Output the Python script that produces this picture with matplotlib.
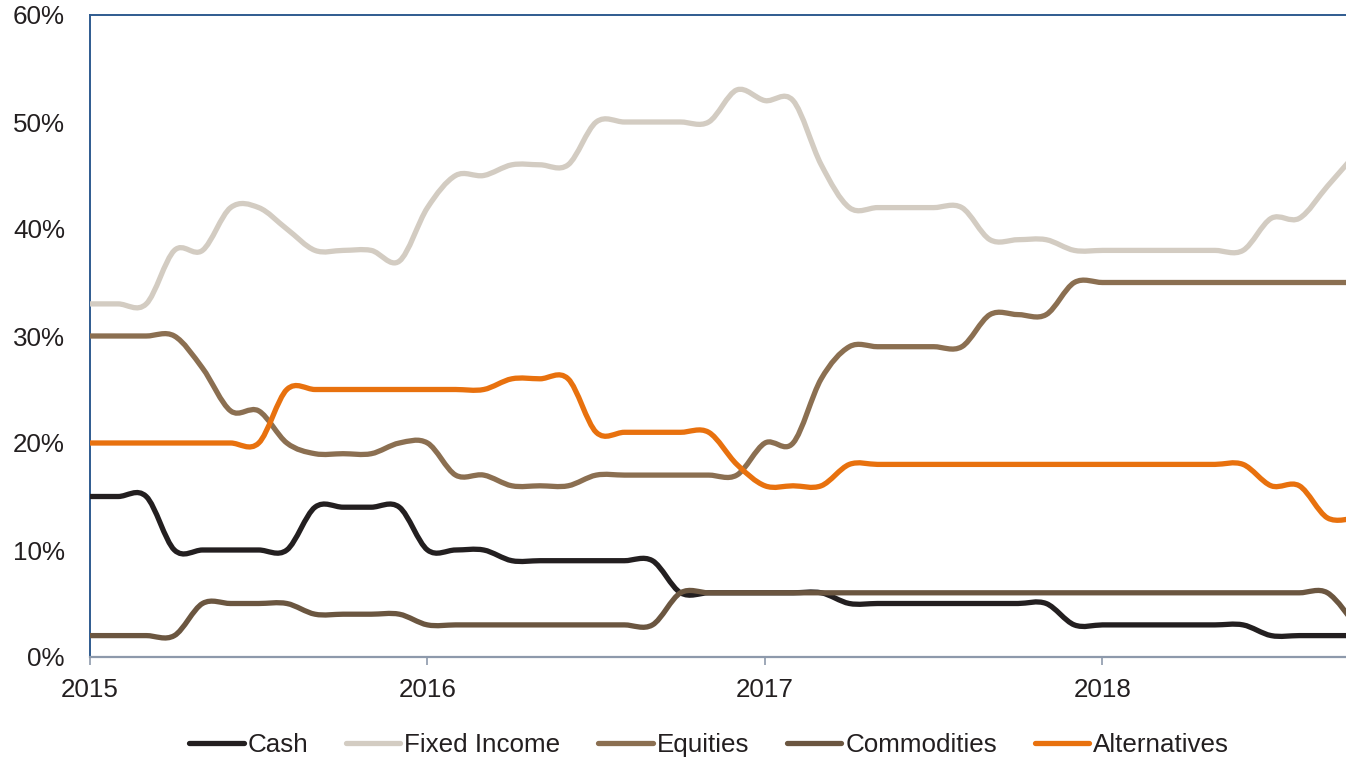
import matplotlib
matplotlib.use("Agg")
import matplotlib.pyplot as plt
from matplotlib.path import Path
from matplotlib.patches import PathPatch
from matplotlib.lines import Line2D
from matplotlib.ticker import FuncFormatter

plt.rcParams['font.family'] = ['Liberation Sans', 'DejaVu Sans']

# Monthly allocations (%), Jan 2015 .. Oct 2018
years = ["2015", "2016", "2017", "2018"]
series_names = ["Cash", "Fixed Income", "Equities", "Commodities", "Alternatives"]

cash = [15, 15, 15, 10, 10, 10, 10, 10, 14, 14, 14, 14,
        10, 10, 10, 9, 9, 9, 9, 9, 9, 6, 6, 6,
        6, 6, 6, 5, 5, 5, 5, 5, 5, 5, 5, 3,
        3, 3, 3, 3, 3, 3, 2, 2, 2, 2]
fixed_income = [33, 33, 33, 38, 38, 42, 42, 40, 38, 38, 38, 37,
                42, 45, 45, 46, 46, 46, 50, 50, 50, 50, 50, 53,
                52, 52, 46, 42, 42, 42, 42, 42, 39, 39, 39, 38,
                38, 38, 38, 38, 38, 38, 41, 41, 44, 47]
equities = [30, 30, 30, 30, 27, 23, 23, 20, 19, 19, 19, 20,
            20, 17, 17, 16, 16, 16, 17, 17, 17, 17, 17, 17,
            20, 20, 26, 29, 29, 29, 29, 29, 32, 32, 32, 35,
            35, 35, 35, 35, 35, 35, 35, 35, 35, 35]
commodities = [2, 2, 2, 2, 5, 5, 5, 5, 4, 4, 4, 4,
               3, 3, 3, 3, 3, 3, 3, 3, 3, 6, 6, 6,
               6, 6, 6, 6, 6, 6, 6, 6, 6, 6, 6, 6,
               6, 6, 6, 6, 6, 6, 6, 6, 6, 3]
alternatives = [20, 20, 20, 20, 20, 20, 20, 25, 25, 25, 25, 25,
                25, 25, 25, 26, 26, 26, 21, 21, 21, 21, 21, 18,
                16, 16, 16, 18, 18, 18, 18, 18, 18, 18, 18, 18,
                18, 18, 18, 18, 18, 18, 16, 16, 13, 13]

colors = ["#231f20", "#d3ccc2", "#8b6f51", "#6b5640", "#e8710e"]
all_series = [cash, fixed_income, equities, commodities, alternatives]


def smooth_path(xs, ys):
    """Catmull-Rom style cubic Bezier path through the points (Excel-like smoothing)."""
    n = len(xs)
    verts = [(xs[0], ys[0])]
    codes = [Path.MOVETO]
    for i in range(n - 1):
        i0 = max(i - 1, 0)
        i3 = min(i + 2, n - 1)
        c1 = (xs[i] + (xs[i + 1] - xs[i0]) / 6.0, ys[i] + (ys[i + 1] - ys[i0]) / 6.0)
        c2 = (xs[i + 1] - (xs[i3] - xs[i]) / 6.0, ys[i + 1] - (ys[i3] - ys[i]) / 6.0)
        verts += [c1, c2, (xs[i + 1], ys[i + 1])]
        codes += [Path.CURVE4] * 3
    return Path(verts, codes)


W, H = 1346, 761
fig = plt.figure(figsize=(W / 100, H / 100), dpi=100)
ax = fig.add_axes([90 / W, 1 - 657 / H, (1346 - 90) / W, (657 - 15) / H])

for name, vals, col in zip(series_names, all_series, colors):
    xs = list(range(len(vals)))
    p = smooth_path(xs, vals)
    patch = PathPatch(p, fill=False, edgecolor=col, lw=3.8,
                      capstyle='round', joinstyle='round', zorder=3)
    ax.add_patch(patch)

ax.set_xlim(0, 44.66)
ax.set_ylim(0, 60)

ax.set_yticks(range(0, 61, 10))
ax.yaxis.set_major_formatter(FuncFormatter(lambda v, p: f"{int(v)}%"))
ax.set_xticks([0, 12, 24, 36])
ax.set_xticklabels(years)

ax.tick_params(axis='y', length=0, pad=18, labelsize=18.7, labelcolor='#231f20')
ax.tick_params(axis='x', length=6, width=1.2, color='#8d99ab', pad=9,
               labelsize=18.7, labelcolor='#231f20', direction='out')

for s in ['left', 'top']:
    ax.spines[s].set_color('#2f5b8f')
    ax.spines[s].set_linewidth(1.4)
ax.spines['bottom'].set_color('#8d99ab')
ax.spines['bottom'].set_linewidth(1.6)
ax.spines['right'].set_visible(False)

handles = [Line2D([], [], color=c, lw=3.8, solid_capstyle='round') for c in colors]
fig.legend(handles, series_names, loc='center', bbox_to_anchor=(709 / W, 1 - 745 / H),
           ncol=5, frameon=False, fontsize=18.7, handlelength=2.1, handletextpad=0.15,
           columnspacing=1.45, labelcolor='#231f20')

fig.savefig("out.png", dpi=100)
